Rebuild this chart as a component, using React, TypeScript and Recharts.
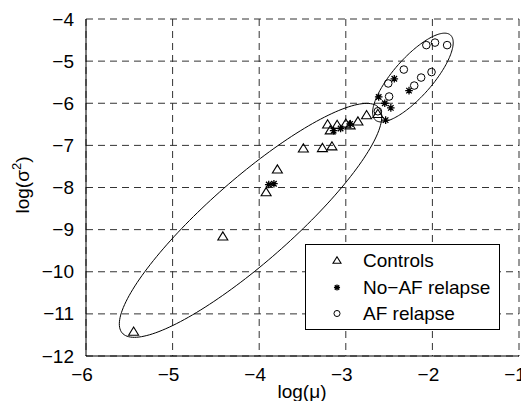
import { CartesianGrid, Legend, Scatter, ScatterChart, XAxis, YAxis } from 'recharts'

const FONT = '"Liberation Sans", Arial, Helvetica, sans-serif'

// Ticks of both axes (log scale values)
const xTicks = [-6, -5, -4, -3, -2, -1]
const yTicks = [-12, -11, -10, -9, -8, -7, -6, -5, -4]

// [log(mu), log(sigma^2)]
const controls: [number, number][] = [
  [-5.45, -11.41],
  [-4.42, -9.15],
  [-3.92, -8.1],
  [-3.79, -7.56],
  [-3.49, -7.06],
  [-3.27, -7.05],
  [-3.16, -7.01],
  [-3.21, -6.49],
  [-3.18, -6.63],
  [-3.1, -6.5],
  [-3.0, -6.47],
  [-2.95, -6.51],
  [-2.86, -6.42],
  [-2.76, -6.27],
  [-2.63, -6.24],
]

const noAfRelapse: [number, number][] = [
  [-3.89, -7.93],
  [-3.83, -7.91],
  [-3.14, -6.65],
  [-3.06, -6.6],
  [-2.95, -6.49],
  [-2.54, -6.4],
  [-2.48, -6.11],
  [-2.55, -6.0],
  [-2.62, -5.85],
  [-2.27, -5.7],
  [-2.44, -5.42],
]

const afRelapse: [number, number][] = [
  [-2.07, -4.62],
  [-1.97, -4.56],
  [-1.83, -4.62],
  [-2.33, -5.2],
  [-2.01, -5.26],
  [-2.13, -5.39],
  [-2.21, -5.58],
  [-2.51, -5.53],
  [-2.5, -5.84],
  [-2.63, -6.19],
]

// ellipses: centre, semi-axes and angle (data units)
const controlsEllipse = { cx: -4.1, cy: -8.78, a: 3.1, b: 0.63, angle: 63 }
const relapseEllipse = { cx: -2.225, cy: -5.39, a: 1.12, b: 0.27, angle: 69.6 }

const legendNames = ['Controls', 'No\u2212AF relapse', 'AF relapse']

const toPoints = (pairs: [number, number][]) => pairs.map(([x, y]) => ({ x, y }))

function ellipseOutline(e: typeof controlsEllipse) {
  const th = (e.angle * Math.PI) / 180
  const pts = []
  for (let i = 0; i <= 180; i++) {
    const t = (i / 180) * 2 * Math.PI
    pts.push({
      x: e.cx + e.a * Math.cos(th) * Math.cos(t) - e.b * Math.sin(th) * Math.sin(t),
      y: e.cy + e.a * Math.sin(th) * Math.cos(t) + e.b * Math.cos(th) * Math.sin(t),
    })
  }
  return pts
}

const fmt = (v: number) => (v < 0 ? `\u2212${Math.abs(v)}` : `${v}`)

function Triangle({ cx, cy, s = 1 }: { cx: number; cy: number; s?: number }) {
  const w = 5 * s
  const h = 4.1 * s
  return (
    <polygon
      points={`${cx},${cy - h} ${cx - w},${cy + h} ${cx + w},${cy + h}`}
      fill="none"
      stroke="#000"
      strokeWidth={1.1}
    />
  )
}

function Star({ cx, cy, s = 1 }: { cx: number; cy: number; s?: number }) {
  const r = 3.8 * s
  const d = r * 0.72
  return (
    <path
      d={`M${cx - r},${cy}H${cx + r}M${cx},${cy - r}V${cy + r}M${cx - d},${cy - d}L${cx + d},${cy + d}M${cx - d},${cy + d}L${cx + d},${cy - d}`}
      stroke="#000"
      strokeWidth={1.3}
      fill="none"
    />
  )
}

function Ring({ cx, cy, s = 1 }: { cx: number; cy: number; s?: number }) {
  return <circle cx={cx} cy={cy} r={3.8 * s} fill="none" stroke="#000" strokeWidth={1} />
}

const markers = [Triangle, Star, Ring]

function XTick(props: any) {
  const { x, y, payload } = props
  return (
    <text x={x - 4} y={y + 23} textAnchor="middle" fontSize={19} fontFamily={FONT} fill="#000">
      {fmt(payload.value)}
    </text>
  )
}

function YTick(props: any) {
  const { x, y, payload } = props
  return (
    <text x={x - 10} y={y + 6.6} textAnchor="end" fontSize={19} fontFamily={FONT} fill="#000">
      {fmt(payload.value)}
    </text>
  )
}

function XLabel() {
  return (
    <text x={302} y={398} textAnchor="middle" fontSize={19} fontFamily={FONT} fill="#000">
      log(μ)
    </text>
  )
}

function YLabel() {
  return (
    <text
      transform="translate(29,185) rotate(-90)"
      textAnchor="middle"
      fontSize={19}
      fontFamily={FONT}
      fill="#000"
    >
      log(σ
      <tspan fontSize={13} dy={-8}>
        2
      </tspan>
      <tspan dy={8}>)</tspan>
    </text>
  )
}

function LegendBox() {
  const rows = [16, 43.5, 69.5]
  return (
    <svg width={195} height={86} style={{ display: 'block' }}>
      <rect x={0.5} y={0.5} width={194} height={85} fill="#fff" stroke="#000" strokeWidth={1} />
      {legendNames.map((name, i) => {
        const M = markers[i]
        return (
          <g key={name}>
            <M cx={32} cy={rows[i]} s={0.8} />
            <text x={58} y={rows[i] + 6.7} fontSize={19} fontFamily={FONT} fill="#000">
              {name}
            </text>
          </g>
        )
      })}
    </svg>
  )
}

export default function App() {
  return (
    <div style={{ position: 'absolute', left: 0, top: 0, background: '#fff' }}>
      <ScatterChart
        width={521}
        height={401}
        margin={{ top: 19, right: 2, bottom: 0, left: 0 }}
      >
        <CartesianGrid stroke="#333" strokeDasharray="7 5" />
        <XAxis
          type="number"
          dataKey="x"
          domain={[-6, -1]}
          ticks={xTicks}
          interval={0}
          allowDataOverflow
          height={45}
          tickSize={0}
          tickLine={false}
          axisLine={{ stroke: '#000' }}
          tick={<XTick />}
          label={<XLabel />}
        />
        <YAxis
          type="number"
          dataKey="y"
          domain={[-12, -4]}
          ticks={yTicks}
          interval={0}
          allowDataOverflow
          width={86}
          tickSize={0}
          tickLine={false}
          axisLine={{ stroke: '#000' }}
          tick={<YTick />}
          label={<YLabel />}
        />
        <Scatter
          data={ellipseOutline(controlsEllipse)}
          line={{ stroke: '#000', strokeWidth: 1 }}
          lineType="joint"
          shape={() => <g />}
          isAnimationActive={false}
          legendType="none"
        />
        <Scatter
          data={ellipseOutline(relapseEllipse)}
          line={{ stroke: '#000', strokeWidth: 1 }}
          lineType="joint"
          shape={() => <g />}
          isAnimationActive={false}
          legendType="none"
        />
        <Scatter
          name="Controls"
          data={toPoints(controls)}
          shape={(p: any) => <Triangle cx={p.cx} cy={p.cy} />}
          isAnimationActive={false}
        />
        <Scatter
          name="No-AF relapse"
          data={toPoints(noAfRelapse)}
          shape={(p: any) => <Star cx={p.cx} cy={p.cy} />}
          isAnimationActive={false}
        />
        <Scatter
          name="AF relapse"
          data={toPoints(afRelapse)}
          shape={(p: any) => <Ring cx={p.cx} cy={p.cy} />}
          isAnimationActive={false}
        />
        <Legend
          layout="horizontal"
          verticalAlign="middle"
          align="center"
          wrapperStyle={{ left: 305, top: 244, width: 195, height: 86 }}
          content={() => <LegendBox />}
        />
      </ScatterChart>
    </div>
  )
}
